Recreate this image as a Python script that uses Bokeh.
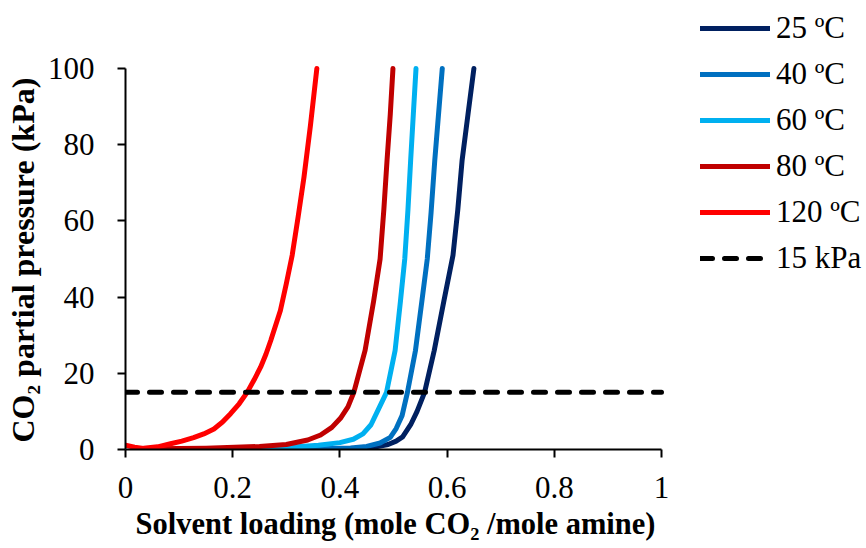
from bokeh.plotting import figure
from bokeh.models import (Range1d, FixedTicker, CustomJSTickFormatter, Legend, LegendItem, Title)
from bokeh.embed import file_html
from bokeh.resources import INLINE

# ---- data ----
x_25 = [0.20, 0.30, 0.40, 0.44, 0.47, 0.49, 0.505, 0.517, 0.532, 0.544, 0.558, 0.576, 0.594, 0.611, 0.620, 0.628, 0.639, 0.650]
y_25 = [0.0, 0.05, 0.15, 0.35, 0.75, 1.3, 2.2, 3.3, 6.5, 10.0, 15.0, 26.0, 39.0, 51.0, 63.0, 75.9, 88.0, 100.0]

x_40 = [0.20, 0.35, 0.42, 0.45, 0.475, 0.494, 0.505, 0.516, 0.526, 0.541, 0.553, 0.563, 0.570, 0.577, 0.584, 0.591]
y_40 = [0.0, 0.15, 0.4, 0.8, 1.7, 3.2, 5.5, 8.9, 15.0, 26.0, 39.0, 50.0, 62.0, 75.9, 88.0, 100.0]

x_60 = [0.20, 0.30, 0.36, 0.40, 0.425, 0.443, 0.458, 0.470, 0.487, 0.503, 0.513, 0.521, 0.527, 0.532, 0.537, 0.542]
y_60 = [0.0, 0.5, 1.1, 1.8, 2.7, 4.1, 6.5, 10.0, 15.0, 26.0, 39.0, 50.0, 63.0, 75.9, 88.0, 100.0]

x_80 = [0.05, 0.15, 0.25, 0.30, 0.34, 0.364, 0.385, 0.401, 0.415, 0.426, 0.447, 0.463, 0.475, 0.482, 0.488, 0.494, 0.499]
y_80 = [0.2, 0.35, 0.8, 1.3, 2.5, 3.8, 5.8, 8.2, 11.2, 15.0, 26.0, 39.0, 50.0, 63.0, 76.0, 88.0, 100.0]

x_120 = [0.0, 0.017, 0.034, 0.06, 0.084, 0.105, 0.127, 0.146, 0.165, 0.181, 0.196, 0.212, 0.227, 0.240,
         0.252, 0.262, 0.271, 0.289, 0.300, 0.311, 0.322, 0.333, 0.345, 0.357]
y_120 = [1.1, 0.6, 0.3, 0.7, 1.5, 2.2, 3.1, 4.1, 5.4, 7.2, 9.4, 12.0, 15.0, 18.3,
         21.6, 25.0, 28.6, 36.5, 43.5, 51.0, 61.0, 71.5, 85.0, 100.0]

ref_x = [0.0, 1.0]
ref_y = [15.0, 15.0]

series_labels = ["25 ºC", "40 ºC", "60 ºC", "80 ºC", "120 ºC"]
ref_label = "15 kPa"
x_label = "Solvent loading (mole CO₂ /mole amine)"
y_label = "CO₂ partial pressure (kPa)"
x_ticks = [0, 0.2, 0.4, 0.6, 0.8, 1]
y_ticks = [0, 20, 40, 60, 80, 100]

colors = ["#002060", "#0070C0", "#00B0F0", "#C00000", "#FF0000"]

FONT = "Liberation Serif"
LW = 5
DASH = "12 12"

# Layout: the data area spans x 0..1 over 536 px and y 0..100 over 381 px;
# the frame is extended up and to the right so the legend can sit there.
W, H = 866, 548
LEFT, BOTTOM = 125, 99
PX_X, PX_Y = 536.0, 381.0
x_end = (W - LEFT) / PX_X
y_end = (H - BOTTOM) / PX_Y * 100.0

p = figure(width=W, height=H, output_backend="svg", toolbar_location=None,
           x_range=Range1d(0, x_end), y_range=Range1d(0, y_end),
           min_border_left=LEFT, min_border_right=0, min_border_top=0, min_border_bottom=BOTTOM)
p.outline_line_color = None
p.grid.visible = False
p.background_fill_color = "white"
p.border_fill_color = "white"

xs = [x_25, x_40, x_60, x_80, x_120]
ys = [y_25, y_40, y_60, y_80, y_120]
items = []
for xx, yy, c, lab in zip(xs, ys, colors, series_labels):
    r = p.line(xx, yy, line_color=c, line_width=LW, line_cap="round", line_join="round")
    items.append(LegendItem(label=lab, renderers=[r]))
rr = p.line(ref_x, ref_y, line_color="black", line_width=LW, line_dash=DASH, line_cap="round")
items.append(LegendItem(label=ref_label, renderers=[rr]))

for ax in (p.xaxis[0], p.yaxis[0]):
    ax.axis_line_color = "black"
    ax.axis_line_width = 2
    ax.major_tick_line_color = "black"
    ax.major_tick_line_width = 2
    ax.major_tick_out = 8
    ax.major_tick_in = 0
    ax.minor_tick_line_color = None
    ax.major_label_text_font = FONT
    ax.major_label_text_font_size = "31px"
    ax.major_label_text_color = "black"

p.xaxis.ticker = FixedTicker(ticks=x_ticks)
p.yaxis.ticker = FixedTicker(ticks=y_ticks)
p.xaxis.bounds = (0, 1)
p.yaxis.bounds = (0, 100)
p.xaxis.formatter = CustomJSTickFormatter(code="return String(tick)")
p.xaxis.major_label_standoff = 19
p.yaxis.major_label_standoff = 23

# axis titles (placed relative to the data area rather than the extended frame)
xt = Title(text=x_label, align="left", offset=10, standoff=10, vertical_align="middle",
           text_font=FONT, text_font_size="30.5px", text_font_style="bold", text_color="black")
p.add_layout(xt, "below")
yt = Title(text=y_label, align="left", offset=7, standoff=6, vertical_align="middle",
           text_font=FONT, text_font_size="32px", text_font_style="bold", text_color="black")
p.add_layout(yt, "left")

legend = Legend(items=items, location=(575, 173), orientation="vertical")
legend.label_text_font = FONT
legend.label_text_font_size = "31px"
legend.label_text_color = "black"
legend.glyph_width = 70
legend.glyph_height = 36
legend.label_height = 36
legend.spacing = 10
legend.label_standoff = 6
legend.padding = 0
legend.margin = 0
legend.border_line_color = None
legend.background_fill_alpha = 0
p.add_layout(legend, "center")

open("out.html", "w").write(file_html(p, INLINE))
